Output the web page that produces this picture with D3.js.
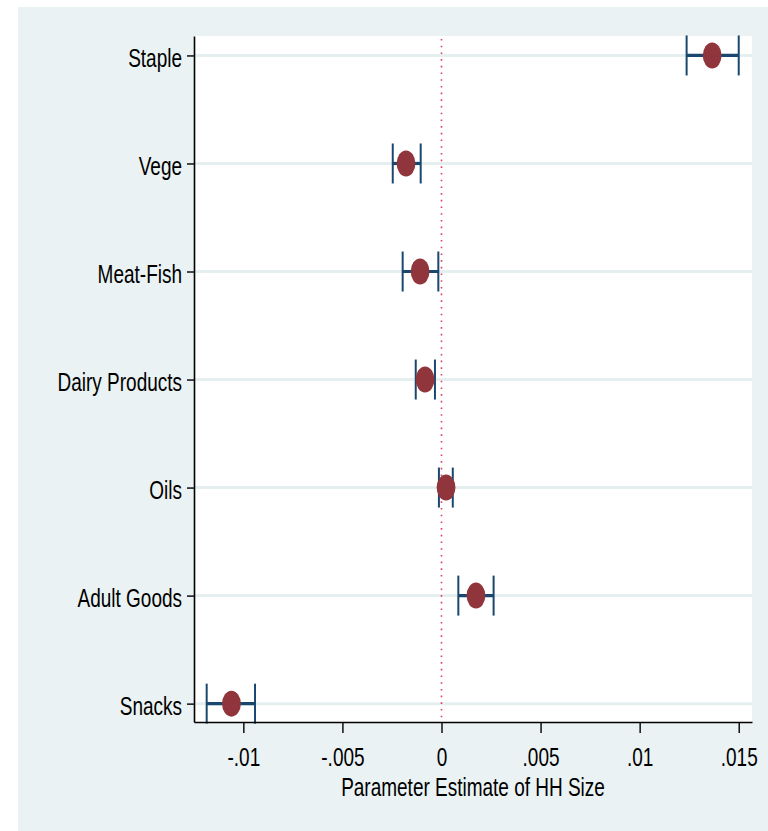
<!DOCTYPE html>
<html>
<head>
<meta charset="utf-8">
<script src="https://cdn.jsdelivr.net/npm/d3@7"></script>
<style>
  html, body { margin: 0; padding: 0; background: #ffffff; }
  svg { display: block; }
  text { font-family: "Liberation Sans", Arial, sans-serif; fill: #000; }
</style>
</head>
<body>
<svg id="chart" width="768" height="831"></svg>
<script>
// Coefficient of household size in each food-share equation, with confidence bounds
const categories = ["Staple", "Vege", "Meat-Fish", "Dairy Products", "Oils", "Adult Goods", "Snacks"];
const estimates  = [0.01366, -0.00179, -0.00108, -0.00083, 0.00023, 0.00174, -0.01060];
const lowerCI    = [0.01237, -0.00246, -0.00196, -0.00130, -0.00013, 0.00085, -0.01185];
const upperCI    = [0.01500, -0.00105, -0.00016, -0.00033, 0.00057, 0.00263, -0.00941];
const xTickValues = [-0.01, -0.005, 0, 0.005, 0.01, 0.015];
const xTickLabels = ["-.01", "-.005", "0", ".005", ".01", ".015"];
const xTitle = "Parameter Estimate of HH Size";

const W = 768, H = 831;
const plot = { left: 194, right: 752, top: 36, bottom: 722 };
const textStretch = 1.36;   // tall, narrow lettering
const fontPx = 19;

const svg = d3.select("#chart");

// outer graph region and inner plot region
svg.append("rect").attr("x", 18).attr("y", 7).attr("width", W - 18).attr("height", H - 7)
  .attr("fill", "#eaf2f3");
svg.append("rect").attr("x", plot.left).attr("y", plot.top)
  .attr("width", plot.right - plot.left).attr("height", plot.bottom - plot.top)
  .attr("fill", "#ffffff");

const x = d3.scaleLinear().domain([-0.01249, 0.01567]).range([plot.left, plot.right]);
const y = d3.scaleLinear().domain([-0.18, 6.17]).range([plot.top, plot.bottom]);
const idx = d3.range(categories.length);

// horizontal grid lines at each category
svg.append("g").selectAll("line").data(idx).join("line")
  .attr("x1", plot.left).attr("x2", plot.right)
  .attr("y1", d => y(d)).attr("y2", d => y(d))
  .attr("stroke", "#e6eff0").attr("stroke-width", 3);

// reference line at zero
svg.append("line")
  .attr("x1", x(0)).attr("x2", x(0))
  .attr("y1", plot.top + 3).attr("y2", plot.bottom - 4)
  .attr("stroke", "#dd3f62").attr("stroke-width", 1.6)
  .attr("stroke-dasharray", "1.6,5.1");

// confidence intervals with end caps
const capHalf = 20;
const bars = svg.append("g").attr("stroke", "#1a476f").attr("fill", "none");
bars.selectAll("line.ci").data(idx).join("line").attr("class", "ci")
  .attr("x1", d => x(lowerCI[d])).attr("x2", d => x(upperCI[d]))
  .attr("y1", d => y(d)).attr("y2", d => y(d))
  .attr("stroke-width", 3.2);
bars.selectAll("line.capL").data(idx).join("line").attr("class", "capL")
  .attr("x1", d => x(lowerCI[d])).attr("x2", d => x(lowerCI[d]))
  .attr("y1", d => y(d) - capHalf).attr("y2", d => y(d) + capHalf)
  .attr("stroke-width", 2);
bars.selectAll("line.capR").data(idx).join("line").attr("class", "capR")
  .attr("x1", d => x(upperCI[d])).attr("x2", d => x(upperCI[d]))
  .attr("y1", d => y(d) - capHalf).attr("y2", d => y(d) + capHalf)
  .attr("stroke-width", 2);

// point estimates
svg.append("g").selectAll("ellipse").data(idx).join("ellipse")
  .attr("cx", d => x(estimates[d])).attr("cy", d => y(d))
  .attr("rx", 9.4).attr("ry", 13)
  .attr("fill", "#90353b");

// x axis
const xAxis = svg.append("g").attr("transform", `translate(0,${plot.bottom})`)
  .call(d3.axisBottom(x).tickValues(xTickValues)
    .tickFormat((d, i) => xTickLabels[i]).tickSize(11).tickSizeOuter(0));
xAxis.select(".domain").attr("stroke", "#000").attr("stroke-width", 1.6);
xAxis.selectAll(".tick line").attr("stroke", "#000").attr("stroke-width", 1.4);
xAxis.selectAll(".tick text")
  .attr("y", null).attr("dy", null)
  .attr("font-size", fontPx).attr("text-anchor", "middle")
  .attr("transform", `translate(0,44) scale(1,${textStretch})`);

// y axis with category labels
const yAxis = svg.append("g").attr("transform", `translate(${plot.left},0)`)
  .call(d3.axisLeft(y).tickValues(idx)
    .tickFormat(d => categories[d]).tickSize(7).tickSizeOuter(0));
yAxis.select(".domain").attr("stroke", "#000").attr("stroke-width", 1.6);
yAxis.selectAll(".tick line").attr("stroke", "#000").attr("stroke-width", 1.4);
yAxis.selectAll(".tick text")
  .attr("x", null).attr("dy", null)
  .attr("font-size", fontPx).attr("text-anchor", "end")
  .attr("transform", `translate(-12,11) scale(1,${textStretch})`);

// axis title
svg.append("text")
  .attr("transform", `translate(${(plot.left + plot.right) / 2},${796}) scale(1,${textStretch})`)
  .attr("text-anchor", "middle").attr("font-size", fontPx)
  .text(xTitle);
</script>
</body>
</html>
